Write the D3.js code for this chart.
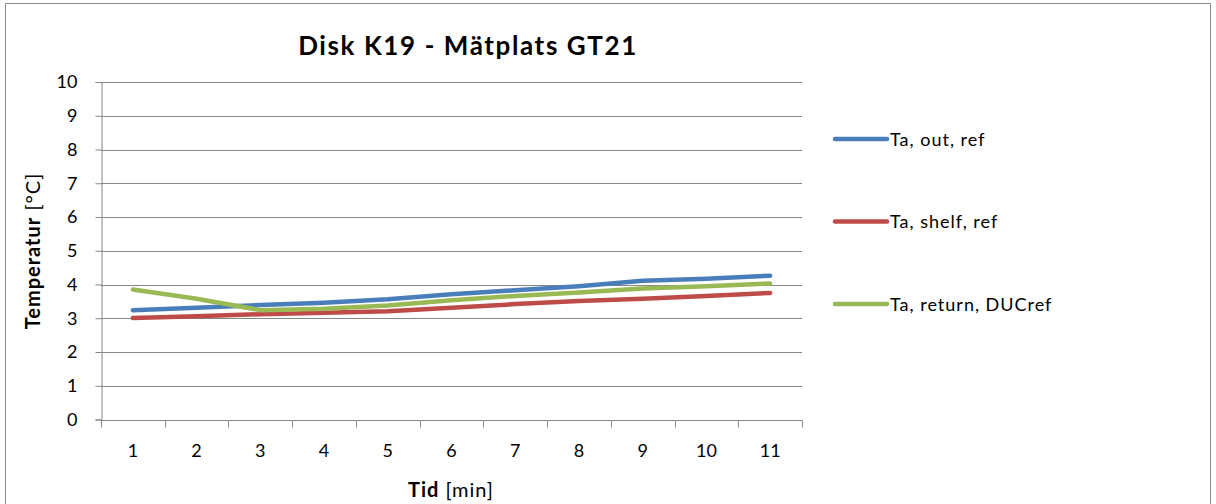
<!DOCTYPE html>
<html>
<head>
<meta charset="utf-8">
<script src="https://cdn.jsdelivr.net/npm/d3@7"></script>
<style>
  html, body { margin: 0; padding: 0; background: #fff; }
  svg { display: block; font-family: Lato, "Open Sans", sans-serif; }
</style>
</head>
<body>
<svg id="chart" width="1216" height="504"></svg>
<script>
// Time steps (minutes)
const categories = ["1", "2", "3", "4", "5", "6", "7", "8", "9", "10", "11"];

// Air temperatures [°C]
const taOutRef      = [3.24, 3.31, 3.39, 3.46, 3.56, 3.71, 3.83, 3.95, 4.11, 4.17, 4.26];
const taShelfRef    = [3.01, 3.06, 3.12, 3.16, 3.21, 3.31, 3.42, 3.51, 3.58, 3.66, 3.75];
const taReturnDUC   = [3.85, 3.58, 3.24, 3.28, 3.38, 3.53, 3.66, 3.76, 3.88, 3.95, 4.03];

const seriesNames  = ["Ta, out, ref", "Ta, shelf, ref", "Ta, return, DUCref"];
const seriesColors = ["#4A7EBB", "#BE4B48", "#98B954"];
const yTicks = [0, 1, 2, 3, 4, 5, 6, 7, 8, 9, 10];

const series = [taOutRef, taShelfRef, taReturnDUC].map((values, i) => ({
  name: seriesNames[i], color: seriesColors[i], values
}));

const svg = d3.select("#chart");

// Outer frame
svg.append("rect")
  .attr("x", 5.5).attr("y", 3.5)
  .attr("width", 1205).attr("height", 510)
  .attr("fill", "#fff").attr("stroke", "#8c8c8c").attr("stroke-width", 1);

const plot = { left: 101, right: 802, top: 82, bottom: 419.5 };

const x = d3.scaleBand().domain(categories).range([plot.left, plot.right]);
const y = d3.scaleLinear().domain([0, 10]).range([plot.bottom, plot.top]);

const gridColor = "#868686";

// Horizontal gridlines
svg.append("g")
  .selectAll("line")
  .data(yTicks.filter(d => d > 0))
  .join("line")
  .attr("x1", plot.left).attr("x2", plot.right)
  .attr("y1", d => Math.round(y(d)) + 0.5).attr("y2", d => Math.round(y(d)) + 0.5)
  .attr("stroke", gridColor).attr("stroke-width", 1);

// Y axis
const yAxis = svg.append("g")
  .attr("transform", `translate(${plot.left + 0.5},0)`)
  .call(d3.axisLeft(y).tickValues(yTicks).tickSize(6).tickPadding(18));
yAxis.select(".domain").attr("stroke", gridColor);
yAxis.selectAll(".tick line").attr("stroke", gridColor);
yAxis.selectAll(".tick text")
  .attr("fill", "#000").style("font-size", "18px").style("font-family", "Lato, sans-serif");

// X axis with tick marks on category boundaries
const xAxisG = svg.append("g")
  .attr("transform", `translate(0,${Math.round(plot.bottom) + 0.5})`);
xAxisG.append("line")
  .attr("x1", plot.left).attr("x2", plot.right)
  .attr("stroke", gridColor);
const boundaries = categories.map(c => x(c)).concat([x(categories[categories.length - 1]) + x.bandwidth()]);
xAxisG.selectAll("line.tk")
  .data(boundaries)
  .join("line")
  .attr("class", "tk")
  .attr("x1", d => Math.round(d) + 0.5).attr("x2", d => Math.round(d) + 0.5)
  .attr("y1", 0).attr("y2", 7)
  .attr("stroke", gridColor);
xAxisG.selectAll("text")
  .data(categories)
  .join("text")
  .attr("x", d => x(d) + x.bandwidth() / 2)
  .attr("y", 36)
  .attr("text-anchor", "middle")
  .style("font-size", "18px")
  .text(d => d);

// Title
svg.append("text")
  .attr("x", 468).attr("y", 55)
  .attr("text-anchor", "middle")
  .style("font-size", "26px").style("font-weight", "bold")
  .style("letter-spacing", "1.6px")
  .text("Disk K19 - Mätplats GT21");

// Axis titles
const xTitle = svg.append("text")
  .attr("x", 451).attr("y", 497)
  .attr("text-anchor", "middle")
  .style("font-size", "20px")
  .style("letter-spacing", "1px");
xTitle.append("tspan").style("font-weight", "bold").text("Tid");
xTitle.append("tspan").text(" [min]");

const yTitle = svg.append("text")
  .attr("transform", "translate(40,251) rotate(-90)")
  .attr("text-anchor", "middle")
  .style("font-size", "20px")
  .style("letter-spacing", "1px");
yTitle.append("tspan").style("font-weight", "bold").text("Temperatur");
yTitle.append("tspan").text(" [°C]");

// Lines
const line = d3.line()
  .x((d, i) => x(categories[i]) + x.bandwidth() / 2)
  .y(d => y(d));

svg.append("g")
  .selectAll("path")
  .data(series)
  .join("path")
  .attr("d", d => line(d.values))
  .attr("fill", "none")
  .attr("stroke", d => d.color)
  .attr("stroke-width", 4.5)
  .attr("stroke-linecap", "round")
  .attr("stroke-linejoin", "round");

// Legend
const legend = svg.append("g")
  .selectAll("g")
  .data(series)
  .join("g")
  .attr("transform", (d, i) => `translate(835,${139 + i * 82.5})`);
legend.append("line")
  .attr("x1", 0).attr("x2", 52)
  .attr("stroke", d => d.color)
  .attr("stroke-width", 4.5)
  .attr("stroke-linecap", "round");
legend.append("text")
  .attr("x", 55).attr("y", 6.5)
  .style("font-size", "18px")
  .style("letter-spacing", "1px")
  .text(d => d.name);
</script>
</body>
</html>
